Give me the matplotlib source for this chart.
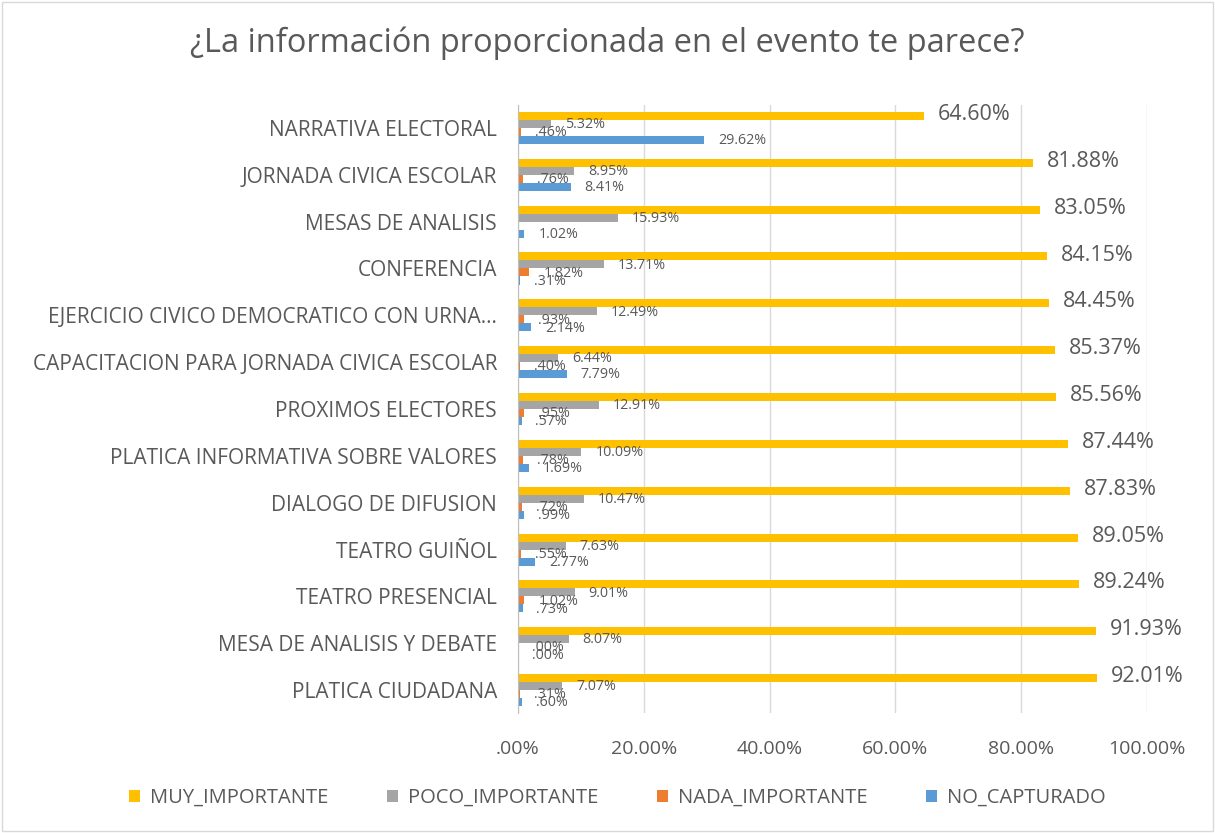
import matplotlib
matplotlib.use("Agg")
import matplotlib.pyplot as plt
from matplotlib.patches import Patch, Rectangle

plt.rcParams['font.family'] = ['Open Sans', 'DejaVu Sans']

categories = [
    "NARRATIVA ELECTORAL",
    "JORNADA CIVICA ESCOLAR",
    "MESAS DE ANALISIS",
    "CONFERENCIA",
    "EJERCICIO CIVICO DEMOCRATICO CON URNA...",
    "CAPACITACION PARA JORNADA CIVICA ESCOLAR",
    "PROXIMOS ELECTORES",
    "PLATICA INFORMATIVA SOBRE VALORES",
    "DIALOGO DE DIFUSION",
    "TEATRO GUIÑOL",
    "TEATRO PRESENCIAL",
    "MESA DE ANALISIS Y DEBATE",
    "PLATICA CIUDADANA",
]
muy_importante = [64.60, 81.88, 83.05, 84.15, 84.45, 85.37, 85.56, 87.44, 87.83, 89.05, 89.24, 91.93, 92.01]
poco_importante = [5.32, 8.95, 15.93, 13.71, 12.49, 6.44, 12.91, 10.09, 10.47, 7.63, 9.01, 8.07, 7.07]
nada_importante = [0.46, 0.76, None, 1.82, 0.93, 0.40, 0.95, 0.78, 0.72, 0.55, 1.02, 0.00, 0.31]
no_capturado = [29.62, 8.41, 1.02, 0.31, 2.14, 7.79, 0.57, 1.69, 0.99, 2.77, 0.73, 0.00, 0.60]

series_names = ["MUY_IMPORTANTE", "POCO_IMPORTANTE", "NADA_IMPORTANTE", "NO_CAPTURADO"]
series_values = [muy_importante, poco_importante, nada_importante, no_capturado]
colors = ["#FFC000", "#A5A5A5", "#ED7D31", "#5B9BD5"]
ticks = [0, 20, 40, 60, 80, 100]

text_color = "#595959"


def fmt(v):
    s = f"{v:.2f}"
    if s.startswith("0."):
        s = s[1:]
    return s + "%"


fig = plt.figure(figsize=(12.15, 8.33), dpi=100)
fig.patches.append(Rectangle((0.002, 0.002), 0.996, 0.996, transform=fig.transFigure,
                             fill=False, edgecolor="#D9D9D9", linewidth=1))
ax = fig.add_axes([0.4263, 0.1435, 0.5177, 0.731])

bar_h = 0.171
offsets = [-1.5 * bar_h, -0.5 * bar_h, 0.5 * bar_h, 1.5 * bar_h]
for s, (vals, col, off) in enumerate(zip(series_values, colors, offsets)):
    for i, v in enumerate(vals):
        if v is None:
            continue
        y = i + off
        ax.barh(y, v, height=bar_h, color=col, zorder=3)
        if s == 0:
            ax.annotate(fmt(v), (v, y), xytext=(10, 1), textcoords="offset points",
                        ha="left", va="center", fontsize=15.5, color=text_color)
        else:
            ax.annotate(fmt(v), (v, y), xytext=(10, -0.5), textcoords="offset points",
                        ha="left", va="center", fontsize=10.3, color=text_color)

ax.set_ylim(len(categories) - 0.5, -0.5)
ax.set_xlim(0, 100)
ax.set_yticks(range(len(categories)))
ax.set_yticklabels(categories, fontsize=15, color=text_color)
ax.set_xticks(ticks)
ax.set_xticklabels([fmt(t) for t in ticks], fontsize=14, color=text_color)
ax.tick_params(axis="both", length=0)
ax.tick_params(axis="y", pad=15)
ax.tick_params(axis="x", pad=19)
ax.grid(axis="x", color="#D9D9D9", linewidth=1, zorder=0)
for sp in ["top", "right", "bottom"]:
    ax.spines[sp].set_visible(False)
ax.spines["left"].set_color("#BFBFBF")
ax.spines["left"].set_zorder(4)

fig.suptitle("¿La información proporcionada en el evento te parece?", y=0.968,
             fontsize=23.5, color=text_color)

handles = [Patch(facecolor=c, label=n) for c, n in zip(colors, series_names)]
fig.legend(handles=handles, loc="center", bbox_to_anchor=(0.508, 0.042), ncol=4,
           frameon=False, fontsize=14.5, labelcolor=text_color, handlelength=0.55,
           handleheight=0.55, columnspacing=2.9, handletextpad=0.5)

fig.savefig("out.png", dpi=100)
